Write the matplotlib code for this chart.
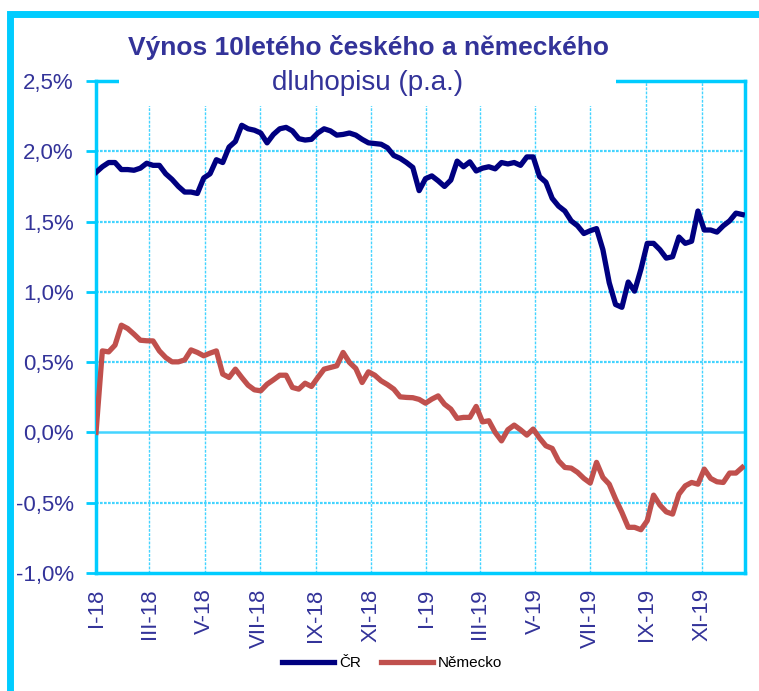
import matplotlib
matplotlib.use('Agg')
import matplotlib.pyplot as plt
from matplotlib.patches import Rectangle
from matplotlib.lines import Line2D
import pandas as pd

plt.rcParams['font.family'] = ['Liberation Sans', 'DejaVu Sans']

# weekly observations, first one on 1 Jan 2018
START = '2018-01-01'
cr = [1.85, 1.89, 1.92, 1.92, 1.87, 1.87, 1.865, 1.88, 1.915, 1.90,
      1.90, 1.84, 1.80, 1.75, 1.71, 1.71, 1.70, 1.81, 1.84, 1.94,
      1.92, 2.03, 2.07, 2.185, 2.16, 2.15, 2.13, 2.06, 2.12, 2.16,
      2.17, 2.145, 2.09, 2.08, 2.085, 2.13, 2.16, 2.145, 2.115, 2.12,
      2.13, 2.115, 2.085, 2.06, 2.055, 2.05, 2.025, 1.97, 1.95, 1.92,
      1.885, 1.72, 1.805, 1.825, 1.79, 1.75, 1.795, 1.93, 1.89, 1.925,
      1.86, 1.88, 1.89, 1.875, 1.92, 1.91, 1.92, 1.90, 1.96, 1.96,
      1.82, 1.78, 1.665, 1.61, 1.575, 1.505, 1.47, 1.415, 1.435, 1.45,
      1.30, 1.065, 0.91, 0.89, 1.07, 1.005, 1.16, 1.345, 1.345, 1.30,
      1.24, 1.25, 1.39, 1.345, 1.36, 1.575, 1.44, 1.44, 1.425, 1.47,
      1.505, 1.56, 1.55]
de = [0.0, 0.58, 0.573, 0.621, 0.763, 0.739, 0.699, 0.656, 0.652, 0.651,
      0.58, 0.533, 0.502, 0.502, 0.516, 0.587, 0.569, 0.545, 0.564, 0.58,
      0.415, 0.391, 0.45, 0.391, 0.336, 0.303, 0.296, 0.343, 0.374, 0.407,
      0.407, 0.32, 0.308, 0.35, 0.327, 0.39, 0.45, 0.462, 0.474, 0.569,
      0.498, 0.455, 0.355, 0.431, 0.407, 0.367, 0.34, 0.308, 0.253, 0.249,
      0.247, 0.235, 0.208, 0.237, 0.26, 0.201, 0.166, 0.10, 0.107, 0.107,
      0.185, 0.075, 0.083, 0.0, -0.06, 0.019, 0.052, 0.019, -0.019, 0.024,
      -0.04, -0.095, -0.114, -0.202, -0.249, -0.254, -0.284, -0.327, -0.36, -0.213,
      -0.32, -0.368, -0.474, -0.569, -0.675, -0.675, -0.692, -0.628, -0.446, -0.517,
      -0.565, -0.581, -0.439, -0.38, -0.356, -0.368, -0.261, -0.327, -0.351, -0.356,
      -0.289, -0.289, -0.249]
tick_dates = ['2018-01-01', '2018-03-01', '2018-05-01', '2018-07-01', '2018-09-01', '2018-11-01',
              '2019-01-01', '2019-03-01', '2019-05-01', '2019-07-01', '2019-09-01', '2019-11-01']
tick_labels = ['I-18', 'III-18', 'V-18', 'VII-18', 'IX-18', 'XI-18',
               'I-19', 'III-19', 'V-19', 'VII-19', 'IX-19', 'XI-19']
y_ticks = [-1.0, -0.5, 0.0, 0.5, 1.0, 1.5, 2.0, 2.5]

CYAN = '#00CCFF'
GRID = '#44D4FF'
LABEL = '#333399'

dates = pd.date_range(START, periods=len(cr), freq='7D')

fig = plt.figure(figsize=(7.59, 6.91), dpi=100)
ax = fig.add_axes([96/759, 1-573/691, (745-96)/759, (573-81)/691])

ax.plot(dates, cr, color='#000080', lw=3.8, label='ČR', solid_joinstyle='round', zorder=4)
ax.plot(dates, de, color='#C0504D', lw=3.8, label='Německo', solid_joinstyle='round', zorder=3)

ax.set_ylim(-1.0, 2.5)
ax.set_xlim(pd.Timestamp('2018-01-01'), pd.Timestamp('2019-12-19'))
ax.set_yticks(y_ticks)
ax.set_yticklabels([('%.1f%%' % v).replace('.', ',') for v in y_ticks])
ax.set_xticks(pd.to_datetime(tick_dates))
ax.set_xticklabels(tick_labels, rotation=90)

# grid
for v in y_ticks[1:-1]:
    if v == 0.0:
        ax.axhline(v, color=GRID, lw=1.8, zorder=1)
    else:
        ax.axhline(v, color=GRID, lw=1.6, ls=(0, (1.2, 0.6)), zorder=1)
for d in tick_dates[1:]:
    ax.axvline(pd.Timestamp(d), color=GRID, lw=1.0, ls=(0, (2, 1)), zorder=1)

for s in ['left', 'bottom', 'right', 'top']:
    ax.spines[s].set_color(CYAN)
    ax.spines[s].set_linewidth(2.5)
ax.tick_params(axis='y', colors=CYAN, length=7, width=2, pad=9, labelsize=16, labelcolor=LABEL)
ax.tick_params(axis='x', length=0, pad=11, labelsize=16, labelcolor=LABEL)

# white title area covering the top of the plot
fig.patches.append(Rectangle((119/759, 1-106/691), (616-119)/759, 80/691,
                             transform=fig.transFigure, facecolor='white',
                             edgecolor='none', zorder=2))
fig.text(368/759, 1-47/691, 'Výnos 10letého českého a německého', ha='center', va='center',
         fontsize=19, fontweight='bold', color=LABEL, zorder=3)
fig.text(368/759, 1-83/691, 'dluhopisu (p.a.)', ha='center', va='center',
         fontsize=20, color=LABEL, zorder=3)

# outer frame
fig.lines.append(Line2D([10/759, 10/759, 1.05], [-0.05, 1-14/691, 1-14/691],
                        transform=fig.transFigure, color=CYAN, lw=5,
                        solid_joinstyle='miter', zorder=5))

fig.legend(loc='center', bbox_to_anchor=(392/759, 1-663/691), ncol=2, frameon=False,
           fontsize=11, handlelength=3.4, handletextpad=0.35, columnspacing=1.3)

fig.savefig('out.png', dpi=100)
